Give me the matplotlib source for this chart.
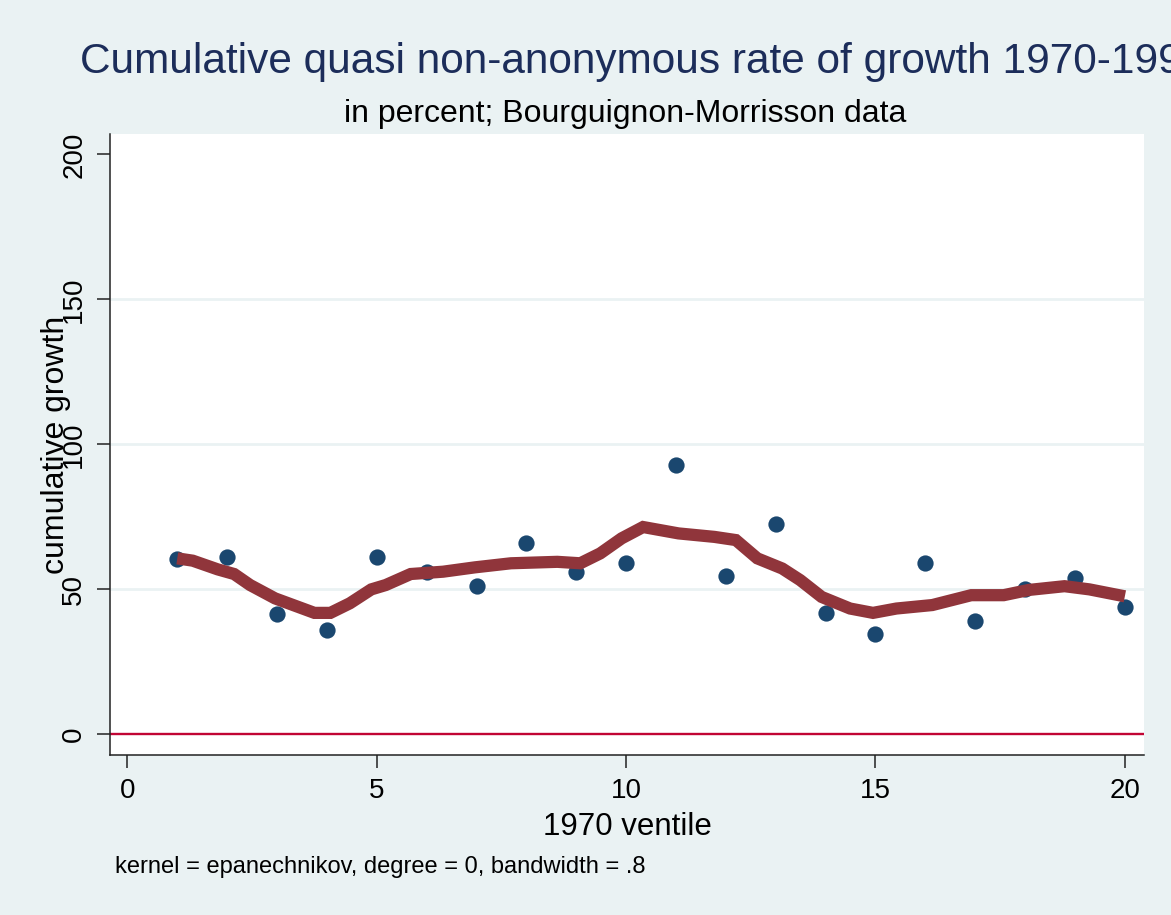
import numpy as np
import matplotlib
matplotlib.use("Agg")
import matplotlib.pyplot as plt

plt.rcParams['font.family'] = ['Liberation Sans', 'DejaVu Sans']

# scatter: cumulative growth by 1970 ventile
ventile = [1, 2, 3, 4, 5, 6, 7, 8, 9, 10, 11, 12, 13, 14, 15, 16, 17, 18, 19, 20]
growth = [60.4, 61.2, 41.6, 36.0, 61.0, 56.1, 51.1, 65.9, 56.1, 59.0,
          93.0, 54.7, 72.4, 41.8, 34.5, 59.0, 39.1, 50.0, 53.8, 43.8]

# kernel smooth
smooth_x = [1.0, 1.31, 1.81, 2.14, 2.46, 2.96, 3.75, 4.07, 4.46, 4.89, 5.18, 5.68,
            6.33, 6.97, 7.69, 8.62, 9.08, 9.48, 9.91, 10.34, 11.05, 11.77, 12.20,
            12.63, 13.13, 13.49, 13.92, 14.49, 14.95, 15.42, 16.14, 16.92, 17.57,
            18.07, 18.79, 19.29, 20.0]
smooth_y = [60.7, 59.9, 56.9, 55.3, 51.5, 46.9, 41.9, 41.9, 45.2, 50.0, 51.5, 55.3,
            56.1, 57.6, 59.0, 59.5, 59.0, 62.4, 67.6, 71.5, 69.3, 68.1, 67.0,
            60.7, 57.2, 53.2, 47.4, 43.4, 41.9, 43.4, 44.6, 48.0, 48.0,
            49.8, 51.1, 50.0, 47.6]

xticks = [0, 5, 10, 15, 20]
yticks = [0, 50, 100, 150, 200]

bg = '#eaf2f3'
fig = plt.figure(figsize=(11.71, 9.15), dpi=100, facecolor=bg)
W, H = 1171.0, 915.0
ax = fig.add_axes([109.8 / W, 1 - 755 / H, (1144.3 - 109.8) / W, (755 - 134.3) / H])
ax.set_facecolor('white')

for g in [50, 100, 150]:
    ax.axhline(g, color=bg, lw=2.0, zorder=1)
ax.axhline(0, color='#c10534', lw=1.7, zorder=2)

ax.plot(ventile, growth, 'o', color='#1a476f', ms=11.7, mec='none', zorder=3)
ax.plot(smooth_x, smooth_y, color='#90353b', lw=8.8, solid_joinstyle='miter',
        solid_capstyle='butt', zorder=4)

ax.set_xlim(-0.353, 20.39)
ax.set_ylim(-7.1, 206.9)
ax.set_xticks(xticks)
ax.set_yticks(yticks)
ax.set_xticklabels([str(v) for v in xticks], fontsize=20)
ax.set_yticklabels([str(v) for v in yticks], fontsize=20, rotation=90, va='center')
ax.tick_params(axis='both', length=9.2, width=1.1, color='#222222', pad=7)

for s in ['top', 'right']:
    ax.spines[s].set_visible(False)
for s in ['left', 'bottom']:
    ax.spines[s].set_color('#222222')
    ax.spines[s].set_linewidth(1.1)

fig.text(79.6 / W, 1 - 73.3 / H, 'Cumulative quasi non-anonymous rate of growth 1970-1992',
         fontsize=30.5, color='#1c2d5a', ha='left', va='baseline')
fig.text(625 / W, 1 - 121.7 / H, 'in percent; Bourguignon-Morrisson data',
         fontsize=23, color='black', ha='center', va='baseline')
fig.text(627 / W, 1 - 835 / H, '1970 ventile', fontsize=22.5, ha='center', va='baseline')
fig.text(55.6 / W, 1 - 445 / H, 'cumulative growth', fontsize=23, rotation=90,
         ha='center', va='center')
fig.text(114.8 / W, 1 - 873 / H, 'kernel = epanechnikov, degree = 0, bandwidth = .8',
         fontsize=17, ha='left', va='baseline')

fig.savefig('out.png', dpi=100, facecolor=bg)
